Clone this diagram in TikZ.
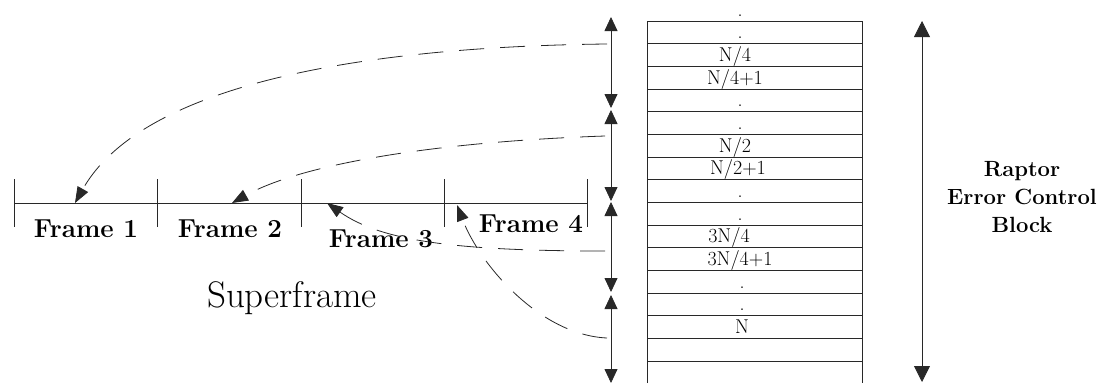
\documentclass[tikz,border=0pt]{standalone}
\usetikzlibrary{arrows.meta}
\definecolor{inkgray}{RGB}{40, 40, 40}

\begin{document}
\begin{tikzpicture}[x=1pt, y=-1pt, line width=0.8pt, draw=inkgray,
        frametxt/.style={font=\fontsize{26}{31}\selectfont\bfseries,
            anchor=base, inner sep=0pt},
        celltxt/.style={font=\fontsize{20}{24}\selectfont,
            anchor=base, inner sep=0pt},
        span/.style={{Triangle[length=14pt, width=13pt]}-{Triangle[length=14pt, width=13pt]}},
        link/.style={dash pattern=on 25pt off 16pt,
            -{Triangle[length=16pt, width=12pt]}}
    ]
    \useasboundingbox (0, 0) rectangle (1102, 383);

    \draw (14, 203) -- (587, 203);
    \foreach \x in {14, 157, 301, 444, 587}
        \draw (\x, 179) -- (\x, 227);
    \node[frametxt] (f1) at (86, 237) {Frame 1};
    \node[frametxt] (f2) at (230, 237) {Frame 2};
    \node[frametxt] (f3) at (381, 247) {Frame 3};
    \node[frametxt] (f4) at (531, 232) {Frame 4};
    \node[font=\fontsize{37}{44}\selectfont, anchor=base, inner sep=0pt]
        (sf) at (292, 307) {Superframe};

    \draw (647, 383) |- (862, 21) -- (862, 383);
    \foreach \k in {1, ..., 15}
        \draw (647, {21 + 22.667*\k}) -- (862, {21 + 22.667*\k});
    \node[celltxt] (c0) at (740, 16) {.};
    \node[celltxt] (c1) at (740, 38.7) {.};
    \node[celltxt] (c2) at (735, 61.3) {N/4};
    \node[celltxt] (c3) at (735, 84) {N/4+1};
    \node[celltxt] (c4) at (740, 106.7) {.};
    \node[celltxt] (c5) at (740, 129.3) {.};
    \node[celltxt] (c6) at (735, 152) {N/2};
    \node[celltxt] (c7) at (738, 174.7) {N/2+1};
    \node[celltxt] (c8) at (740, 197.3) {.};
    \node[celltxt] (c9) at (740, 220) {.};
    \node[celltxt] (c10) at (729, 242.7) {3N/4};
    \node[celltxt] (c11) at (740, 265.3) {3N/4+1};
    \node[celltxt] (c12) at (742, 288) {.};
    \node[celltxt] (c13) at (742, 310.7) {.};
    \node[celltxt] (c14) at (742, 333.3) {N};

    \coordinate (q1a) at (611, 17);
    \coordinate (q1b) at (611, 108);
    \coordinate (q2a) at (611, 110);
    \coordinate (q2b) at (611, 201);
    \coordinate (q3a) at (611, 202);
    \coordinate (q3b) at (611, 292);
    \coordinate (q4a) at (611, 295);
    \coordinate (q4b) at (611, 383);
    \draw[span] (q1a) -- (q1b);
    \draw[span] (q2a) -- (q2b);
    \draw[span] (q3a) -- (q3b);
    \draw[span] (q4a) -- (q4b);

    \coordinate (btop) at (922, 21);
    \coordinate (bbot) at (922, 382);
    \draw[{Triangle[length=16pt, width=16pt]}-{Triangle[length=16pt, width=16pt]}]
        (btop) -- (bbot);
    \node[font=\fontsize{22}{28}\selectfont\bfseries, align=center, inner sep=0pt]
        (rb) at (1022, 197) {Raptor\\Error Control\\Block};

    \coordinate (r1) at (607, 44);
    \coordinate (r2) at (605, 136);
    \coordinate (r3) at (605, 251);
    \coordinate (r4) at (607, 338);
    \coordinate (h1) at (75, 203);
    \coordinate (h2) at (232, 203);
    \coordinate (h3) at (327, 203);
    \coordinate (h4) at (457, 205);
    \draw[link] (r1) .. controls (420, 46) and (150, 70) .. (h1);
    \draw[link] (r2) .. controls (430, 142) and (300, 165) .. (h2);
    \draw[link] (r3) .. controls (450, 251) and (380, 240) .. (h3);
    \draw[link] (r4) .. controls (540, 335) and (480, 265) .. (h4);
\end{tikzpicture}
\end{document}
